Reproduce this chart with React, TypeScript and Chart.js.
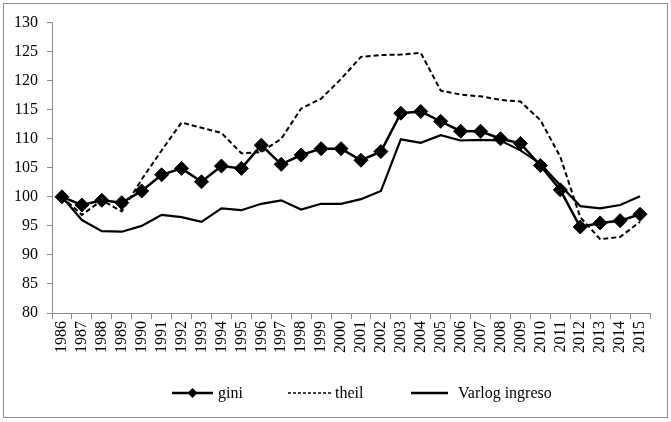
import React, { useEffect, useRef } from "react";
import { Chart, registerables } from "chart.js";

Chart.register(...registerables);

const years = [
  "1986", "1987", "1988", "1989", "1990", "1991", "1992", "1993", "1994", "1995",
  "1996", "1997", "1998", "1999", "2000", "2001", "2002", "2003", "2004", "2005",
  "2006", "2007", "2008", "2009", "2010", "2011", "2012", "2013", "2014", "2015",
];

const gini = [
  100.0, 98.6, 99.4, 99.0, 101.0, 103.8, 104.9, 102.6, 105.3, 104.9,
  108.9, 105.6, 107.2, 108.3, 108.3, 106.3, 107.8, 114.4, 114.7, 113.0,
  111.3, 111.3, 110.0, 109.2, 105.4, 101.2, 94.8, 95.5, 95.9, 97.0,
];

const theil = [
  100.0, 96.9, 99.4, 97.5, 103.0, 108.0, 112.8, 111.9, 111.0, 107.5,
  107.7, 110.0, 115.2, 116.9, 120.3, 124.1, 124.4, 124.5, 124.8, 118.3,
  117.6, 117.3, 116.7, 116.4, 113.2, 106.9, 96.5, 92.7, 93.1, 95.7,
];

const varlog = [
  100.0, 96.0, 94.1, 94.0, 95.0, 96.9, 96.5, 95.7, 98.0, 97.7,
  98.8, 99.4, 97.8, 98.8, 98.8, 99.6, 101.0, 109.9, 109.3, 110.6,
  109.7, 109.8, 109.7, 108.0, 105.7, 102.0, 98.4, 98.0, 98.6, 100.1,
];

const yMin = 80;
const yMax = 130;
const yStep = 5;

const seriesNames = ["gini", "theil", "Varlog ingreso"];

const FONT = "'Liberation Serif', 'Times New Roman', serif";
const AXIS_COLOR = "#8a8a8a";

export default function App() {
  const ref = useRef<HTMLCanvasElement | null>(null);

  useEffect(() => {
    document.body.style.margin = "0";
    const canvas = ref.current;
    if (!canvas) return;

    const legendPlugin = {
      id: "customLegend",
      afterDraw(chart: any) {
        const ctx = chart.ctx as CanvasRenderingContext2D;
        ctx.save();
        ctx.font = `16px ${FONT}`;
        ctx.fillStyle = "#000";
        ctx.strokeStyle = "#000";
        ctx.textBaseline = "middle";
        const y = 389;
        const items = [
          { x: 172, len: 41, gap: 5, kind: "diamond" },
          { x: 288, len: 44, gap: 3, kind: "dash" },
          { x: 411, len: 37, gap: 10, kind: "solid" },
        ];
        items.forEach((it, i) => {
          ctx.beginPath();
          ctx.lineWidth = it.kind === "dash" ? 1.6 : 2.5;
          ctx.setLineDash(it.kind === "dash" ? [3, 2] : []);
          ctx.moveTo(it.x, y);
          ctx.lineTo(it.x + it.len, y);
          ctx.stroke();
          ctx.setLineDash([]);
          if (it.kind === "diamond") {
            const cx = it.x + 20.5;
            const r = 5;
            ctx.beginPath();
            ctx.moveTo(cx, y - r);
            ctx.lineTo(cx + r, y);
            ctx.lineTo(cx, y + r);
            ctx.lineTo(cx - r, y);
            ctx.closePath();
            ctx.fill();
          }
          ctx.fillText(seriesNames[i], it.x + it.len + it.gap, y + 1);
        });
        ctx.restore();
      },
    };

    const chart = new Chart(canvas, {
      type: "line",
      data: {
        labels: years,
        datasets: [
          {
            label: seriesNames[0],
            data: gini,
            borderColor: "#000",
            backgroundColor: "#000",
            borderWidth: 2.5,
            pointStyle: "rectRot",
            pointRadius: 7,
            pointBorderWidth: 1,
            pointBackgroundColor: "#000",
            pointBorderColor: "#000",
            tension: 0,
            order: 0,
          },
          {
            label: seriesNames[1],
            data: theil,
            borderColor: "#000",
            borderWidth: 2,
            borderDash: [5, 3],
            pointRadius: 0,
            tension: 0,
            order: 1,
          },
          {
            label: seriesNames[2],
            data: varlog,
            borderColor: "#000",
            borderWidth: 2.2,
            pointRadius: 0,
            tension: 0,
            order: 2,
          },
        ],
      },
      options: {
        responsive: false,
        animation: false,
        devicePixelRatio: 1,
        layout: { padding: { top: 14, right: 21, bottom: 0, left: 0 } },
        plugins: {
          legend: { display: false },
          tooltip: { enabled: false },
          title: { display: false },
        },
        scales: {
          x: {
            type: "category",
            offset: true,
            afterFit: (s: any) => {
              s.height = 109;
            },
            border: { display: true, color: AXIS_COLOR, width: 1 },
            grid: {
              offset: true,
              drawOnChartArea: false,
              drawTicks: true,
              tickLength: 6,
              color: AXIS_COLOR,
            },
            ticks: {
              autoSkip: false,
              maxRotation: 90,
              minRotation: 90,
              padding: 2,
              color: "#000",
              font: { family: FONT, size: 16 },
            },
          },
          y: {
            min: yMin,
            max: yMax,
            afterFit: (s: any) => {
              s.width = 52;
            },
            border: { display: true, color: AXIS_COLOR, width: 1 },
            grid: {
              drawOnChartArea: false,
              drawTicks: true,
              tickLength: 5,
              color: AXIS_COLOR,
            },
            ticks: {
              stepSize: yStep,
              padding: 9,
              color: "#000",
              font: { family: FONT, size: 16 },
            },
          },
        },
      },
      plugins: [legendPlugin],
    });

    return () => chart.destroy();
  }, []);

  return (
    <div style={{ position: "relative", width: 671, height: 422, background: "#fff" }}>
      <canvas ref={ref} width={671} height={418} style={{ position: "absolute", left: 0, top: 4 }} />
      <div
        style={{
          position: "absolute",
          left: 3,
          top: 3,
          width: 665,
          height: 415,
          border: "1px solid #8c8c8c",
          boxSizing: "border-box",
          pointerEvents: "none",
        }}
      />
    </div>
  );
}
